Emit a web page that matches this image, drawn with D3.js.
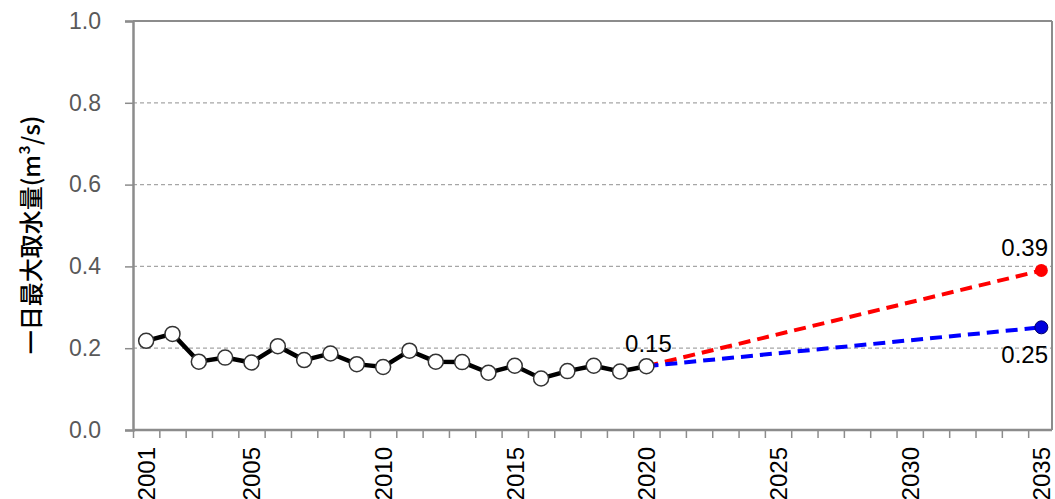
<!DOCTYPE html>
<html><head><meta charset="utf-8">
<script src="https://cdn.jsdelivr.net/npm/d3@7"></script>
<style>body{margin:0;background:#fff;} svg{display:block;}</style>
</head><body>
<svg id="c" width="1055" height="499"></svg>
<script>
const years = d3.range(2001, 2036);
const actualYears = d3.range(2001, 2021);
const actualValues = [0.218,0.235,0.167,0.177,0.165,0.205,0.171,0.187,0.161,0.154,0.194,0.167,0.166,0.140,0.157,0.126,0.144,0.157,0.143,0.156];
const highYears = [2020, 2035];
const highValues = [0.156, 0.39];
const lowYears = [2020, 2035];
const lowValues = [0.156, 0.251];
const yTicks = [0, 0.2, 0.4, 0.6, 0.8, 1.0];
const xLabelYears = [2001, 2005, 2010, 2015, 2020, 2025, 2030, 2035];
const labelYears = [2020, 2035, 2035];
const labelValues = [0.156, 0.39, 0.251];
const labelTexts = ["0.15", "0.39", "0.25"];
const yTitle = "一日最大取水量(m³/s)";

const svg = d3.select("#c");
const L = 133, R = 1054.5, T = 21, B = 430, RB = 1052;
const x = d3.scaleBand().domain(years).range([L, R]).padding(0);
const cx = d => x(d) + x.bandwidth()/2;
const y = d3.scaleLinear().domain([0, 1]).range([B, T]);
const axisCol = "#8c8c8c";
const font = "'Liberation Sans', Arial, sans-serif";

// gridlines
svg.append("g").selectAll("line").data(yTicks.filter(v => v > 0 && v < 1)).join("line")
  .attr("x1", L).attr("x2", RB).attr("y1", d => y(d)).attr("y2", d => y(d))
  .attr("stroke", "#a6a6a6").attr("stroke-width", 1.3).attr("stroke-dasharray", "4,3");

// frame top/right
svg.append("line").attr("x1", L).attr("x2", RB).attr("y1", T).attr("y2", T).attr("stroke", axisCol).attr("stroke-width", 2);
svg.append("line").attr("x1", RB).attr("x2", RB).attr("y1", T).attr("y2", B).attr("stroke", axisCol).attr("stroke-width", 2);

// y axis
const yAxis = d3.axisLeft(y).tickValues(yTicks).tickFormat(d3.format(".1f")).tickSize(8).tickPadding(24);
const gy = svg.append("g").attr("transform", `translate(${L},0)`).call(yAxis);
gy.select(".domain").attr("stroke", axisCol).attr("stroke-width", 2.5);
gy.selectAll(".tick line").attr("stroke", axisCol).attr("stroke-width", 1.5);
gy.selectAll(".tick text").attr("fill", "#595959").attr("font-family", font).attr("font-size", 23);

// x axis (ticks at band boundaries)
const xb = d3.scaleLinear().domain([0, years.length]).range([L, R]);
const gx = svg.append("g").attr("transform", `translate(0,${B})`)
  .call(d3.axisBottom(xb).tickValues(d3.range(0, years.length)).tickSize(8).tickFormat(""));
gx.select(".domain").remove();
gx.selectAll(".tick line").attr("stroke", axisCol).attr("stroke-width", 1.5);
svg.append("line").attr("x1", L).attr("x2", RB).attr("y1", B).attr("y2", B).attr("stroke", axisCol).attr("stroke-width", 2.5);

svg.append("g").selectAll("text").data(xLabelYears).join("text")
  .attr("transform", d => `translate(${cx(d)+9},447) rotate(-90)`)
  .attr("text-anchor", "end").attr("fill", "#000")
  .attr("font-family", font).attr("font-size", 24).text(d => d);

// y title
svg.append("text").attr("transform", "translate(40,235) rotate(-90)")
  .attr("text-anchor", "middle").attr("fill", "#000")
  .attr("font-family", "'Noto Sans CJK JP', sans-serif").attr("font-weight", 500).attr("font-size", 24).text(yTitle);

// projections
const line = d3.line().x(d => cx(d[0])).y(d => y(d[1]));
svg.append("path").datum(d3.zip(highYears, highValues)).attr("d", line)
  .attr("fill", "none").attr("stroke", "#ff0000").attr("stroke-width", 4).attr("stroke-dasharray", "12,7");
svg.append("path").datum(d3.zip(lowYears, lowValues)).attr("d", line)
  .attr("fill", "none").attr("stroke", "#0000ff").attr("stroke-width", 4).attr("stroke-dasharray", "12,7");
svg.append("circle").attr("cx", cx(2035)).attr("cy", y(highValues[1])).attr("r", 6.5).attr("fill", "#ff0000");
svg.append("circle").attr("cx", cx(2035)).attr("cy", y(lowValues[1])).attr("r", 6.5).attr("fill", "#0000dd").attr("stroke", "#000066").attr("stroke-width", 1);

// actual
svg.append("path").datum(d3.zip(actualYears, actualValues)).attr("d", line)
  .attr("fill", "none").attr("stroke", "#000").attr("stroke-width", 4.5);
svg.append("g").selectAll("circle").data(d3.zip(actualYears, actualValues)).join("circle")
  .attr("cx", d => cx(d[0])).attr("cy", d => y(d[1])).attr("r", 7.5)
  .attr("fill", "#fff").attr("stroke", "#333").attr("stroke-width", 1.5);

// data labels
const labels = d3.zip(labelYears, labelValues, labelTexts);
svg.append("g").selectAll("text").data(labels).join("text")
  .attr("x", d => d[0] === 2035 ? RB - 4 : cx(d[0]) + 2)
  .attr("y", (d, i) => y(d[1]) + (i === 2 ? 36 : -14))
  .attr("text-anchor", d => d[0] === 2035 ? "end" : "middle").attr("fill", "#000")
  .attr("font-family", font).attr("font-size", 24).text(d => d[2]);
</script>
</body></html>
